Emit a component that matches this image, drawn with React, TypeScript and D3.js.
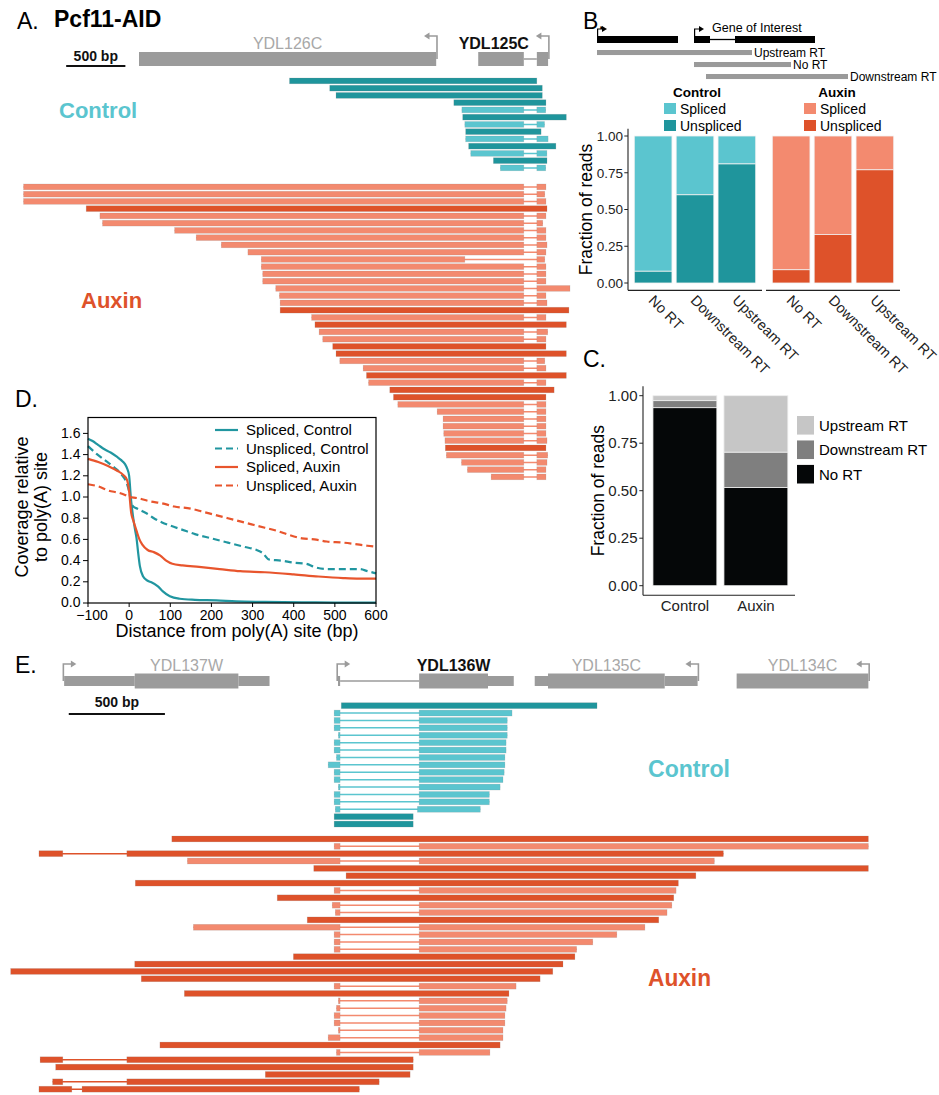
import React from 'react';
import * as d3 from 'd3';

type Block = [number, number];
type Read = { spliced: boolean; blocks: Block[] };
type Part = [number, number, 'cds' | 'utr' | 'intron'];
type Gene = { name: string; strand: '+' | '-'; focus: boolean; parts: Part[] };

const S = (...blocks: Block[]): Read => ({ spliced: true, blocks });
const U = (...blocks: Block[]): Read => ({ spliced: false, blocks });

// ---- panel A: YDL126C / YDL125C locus, positions in bp from the left edge of the window
const genesA: Gene[] = [
  { name: 'YDL126C', strand: '-', focus: false, parts: [[1005, 3515, 'cds']] },
  { name: 'YDL125C', strand: '-', focus: true, parts: [[3870, 4255, 'cds'], [4255, 4365, 'intron'], [4365, 4460, 'cds']] },
];

const controlReadsA: Read[] = [
  U([2276, 4365]), U([2616, 4411]), U([2669, 4411]), U([3664, 4442]),
  S([3732, 4255], [4365, 4440]), U([3739, 4614]), S([3757, 4255], [4365, 4430]),
  U([3764, 4401]), S([3764, 4255], [4365, 4460]), U([3789, 4526]),
  S([3807, 4255], [4365, 4450]), U([3998, 4451]), S([4057, 4255], [4365, 4440]),
];

const auxinReadsA: Read[] = [
  S([30, 4255], [4365, 4442]), S([30, 4255], [4365, 4432]), S([30, 4255], [4365, 4442]),
  U([559, 4451]), S([675, 4255], [4365, 4442]), S([697, 4255], [4365, 4415]),
  S([1306, 4255], [4365, 4442]), S([1488, 4255], [4365, 4442]), S([1700, 4255], [4365, 4451]),
  S([1925, 4255], [4365, 4442]), S([2038, 3757], [4365, 4432]), S([2038, 4255], [4365, 4442]),
  S([2050, 4255], [4365, 4442]), S([2050, 4255], [4365, 4442]), S([2160, 4255], [4365, 4645]),
  S([2191, 4255], [4365, 4442]), S([2197, 4255], [4365, 4451]), U([2197, 4636]),
  S([2463, 4255], [4365, 4442]), U([2491, 4614]), S([2526, 4255], [4365, 4457]),
  S([2557, 4255], [4365, 4442]), U([2641, 4442]), U([2669, 4614]),
  S([2701, 4255], [4365, 4432]), S([2898, 4255], [4365, 4442]), U([2926, 4614]),
  S([2944, 4255], [4365, 4442]), U([3123, 4511]), U([3154, 4442]),
  S([3191, 4255], [4365, 4442]), S([3523, 4255], [4365, 4442]), S([3573, 4255], [4365, 4442]),
  S([3573, 4255], [4365, 4442]), S([3579, 4255], [4365, 4442]), S([3589, 4255], [4365, 4451]),
  U([3592, 4442]), S([3601, 4255], [4365, 4457]), S([3729, 4255], [4365, 4451]),
  S([3779, 4255], [4365, 4442]), S([3979, 4255], [4365, 4442]),
];

// ---- panel B
const rtClasses = ['No RT', 'Downstream RT', 'Upstream RT'];
const controlUnspliced = [0.08, 0.6, 0.81];
const controlSpliced = [0.92, 0.4, 0.19];
const auxinUnspliced = [0.09, 0.33, 0.77];
const auxinSpliced = [0.91, 0.67, 0.23];
// schematic, arbitrary units
const schematicGenes: Gene[] = [
  { name: '', strand: '+', focus: false, parts: [[0, 81, 'cds']] },
  { name: 'Gene of Interest', strand: '+', focus: true, parts: [[97, 113, 'cds'], [113, 138, 'intron'], [138, 218, 'cds']] },
];
const schematicReads = [
  { label: 'Upstream RT', span: [0, 155] },
  { label: 'No RT', span: [97, 194] },
  { label: 'Downstream RT', span: [109, 251] },
];

// ---- panel C
const conditions = ['Control', 'Auxin'];
const noRTShare = [0.937, 0.517];
const downstreamShare = [0.037, 0.186];
const upstreamShare = [0.026, 0.297];
const rtLegend = ['Upstream RT', 'Downstream RT', 'No RT'];

// ---- panel D: coverage relative to poly(A) site
const splicedControl: [number, number][] = [
  [-100, 1.55], [-90, 1.53], [-75, 1.49], [-60, 1.45], [-45, 1.42], [-30, 1.38], [-20, 1.35],
  [-10, 1.31], [-5, 1.27], [0, 1.2], [4, 1.0], [9, 0.83], [14, 0.7], [18, 0.61], [22, 0.47],
  [26, 0.35], [34, 0.25], [45, 0.21], [54, 0.195], [70, 0.157], [82, 0.11], [99, 0.063],
  [123, 0.04], [160, 0.03], [212, 0.025], [260, 0.015], [330, 0.01], [420, 0.006], [500, 0.004], [600, 0.003],
];
const unsplicedControl: [number, number][] = [
  [-100, 1.48], [-80, 1.41], [-60, 1.35], [-40, 1.29], [-20, 1.22], [-5, 1.12], [0, 1.05],
  [5, 0.95], [10, 0.91], [20, 0.89], [30, 0.87], [45, 0.84], [60, 0.8], [80, 0.76], [100, 0.73],
  [130, 0.69], [160, 0.65], [200, 0.61], [240, 0.57], [280, 0.53], [310, 0.5], [325, 0.47],
  [340, 0.41], [370, 0.4], [400, 0.38], [430, 0.37], [450, 0.34], [480, 0.32], [520, 0.32],
  [560, 0.32], [580, 0.3], [600, 0.28],
];
const splicedAuxin: [number, number][] = [
  [-100, 1.36], [-75, 1.33], [-50, 1.29], [-30, 1.25], [-15, 1.21], [-5, 1.16], [0, 1.05],
  [5, 0.85], [10, 0.78], [18, 0.68], [25, 0.6], [32, 0.55], [45, 0.5], [60, 0.48], [75, 0.45],
  [90, 0.4], [105, 0.37], [130, 0.355], [170, 0.34], [220, 0.32], [270, 0.3], [330, 0.29],
  [400, 0.27], [460, 0.25], [520, 0.235], [560, 0.23], [600, 0.23],
];
const unsplicedAuxin: [number, number][] = [
  [-100, 1.12], [-75, 1.1], [-50, 1.06], [-25, 1.04], [-10, 1.02], [0, 1.0], [20, 0.99],
  [50, 0.96], [80, 0.94], [110, 0.91], [150, 0.89], [180, 0.86], [210, 0.83], [240, 0.8],
  [270, 0.77], [300, 0.74], [330, 0.71], [360, 0.68], [390, 0.64], [420, 0.61], [450, 0.6],
  [480, 0.58], [520, 0.57], [560, 0.55], [600, 0.53],
];

// ---- panel E: YDL137W .. YDL134C, bp from left edge of the window
const genesE: Gene[] = [
  { name: 'YDL137W', strand: '+', focus: false, parts: [[292, 659, 'utr'], [659, 1198, 'cds'], [1198, 1360, 'utr']] },
  { name: 'YDL136W', strand: '+', focus: true, parts: [[1716, 1727, 'utr'], [1727, 2138, 'intron'], [2138, 2496, 'cds'], [2496, 2630, 'utr']] },
  { name: 'YDL135C', strand: '-', focus: false, parts: [[2739, 2808, 'utr'], [2808, 3415, 'cds'], [3415, 3586, 'utr']] },
  { name: 'YDL134C', strand: '-', focus: false, parts: [[3789, 4474, 'cds']] },
];

const controlReadsE: Read[] = [
  U([1733, 3063]),
  S([1696, 1727], [2138, 2621]), S([1696, 1727], [2138, 2596]), S([1696, 1727], [2138, 2596]),
  S([1718, 1727], [2138, 2596]), S([1696, 1727], [2138, 2590]), S([1696, 1727], [2138, 2590]),
  S([1708, 1727], [2138, 2584]), S([1665, 1727], [2138, 2584]), S([1696, 1727], [2138, 2580]),
  S([1696, 1727], [2138, 2574]), S([1718, 1727], [2138, 2559]), S([1696, 1727], [2138, 2503]),
  S([1696, 1727], [2138, 2503]), S([1702, 1727], [2129, 2456]),
  U([1696, 2107]), U([1696, 2107]),
];

const auxinReadsE: Read[] = [
  U([852, 4474]), S([1696, 1727], [2138, 4474]), U([161, 285], [618, 3720]),
  S([933, 1727], [2138, 3673]), U([1590, 4474]), U([1758, 3577]), U([662, 3486]),
  S([1696, 1727], [2138, 3474]), U([1400, 3462]), S([1686, 1727], [2138, 3452]),
  S([1702, 1727], [2138, 3427]), U([1556, 3384]), S([964, 1727], [2138, 3312]),
  S([1696, 1727], [2138, 3166]), S([1696, 1727], [2138, 3041]), S([1696, 1727], [2138, 2957]),
  U([1484, 2948]), U([659, 2886]), U([14, 2833]), U([693, 2767]),
  S([1696, 1727], [2138, 2642]), U([917, 2605]), S([1718, 1727], [2138, 2596]),
  S([1708, 1727], [2138, 2590]), S([1696, 1727], [2138, 2584]), S([1696, 1727], [2138, 2584]),
  S([1718, 1727], [2138, 2574]), S([1665, 1727], [2138, 2574]), U([790, 2559]),
  S([1708, 1727], [2138, 2506]), U([167, 285], [618, 2107]), U([248, 2107]),
  U([1338, 2091]), U([232, 285], [618, 1930]), U([161, 332], [385, 1827]),
];

const FONT = "'Liberation Sans', Arial, Helvetica, sans-serif";
const CTRL_LIGHT = '#5bc5cf';
const CTRL_DARK = '#1f959c';
const AUX_LIGHT = '#f38a6f';
const AUX_DARK = '#de522a';
const GENE_GRAY = '#9b9b9b';
const AXIS = '#222';

function GeneModel({ g, x, cy, arrowY, cdsH, utrH, labelY, fontSize = 16, color = GENE_GRAY }: any) {
  const lo = d3.min(g.parts, (p: Part) => p[0]) as number;
  const hi = d3.max(g.parts, (p: Part) => p[1]) as number;
  const dir = g.strand === '+' ? 1 : -1;
  const tss = x(dir > 0 ? lo : hi) - dir * 0.8;
  const cds = g.parts.filter((p: Part) => p[2] === 'cds');
  let lx = x(((d3.min(cds, (p: Part) => p[0]) as number) + (d3.max(cds, (p: Part) => p[1]) as number)) / 2);
  let anchor = 'middle';
  if (dir < 0 && lx + g.name.length * 5 > tss - 10) {
    lx = tss - 20;
    anchor = 'end';
  }
  const tip = tss + dir * 13;
  return (
    <g>
      {g.parts.map(([a, b, kind]: Part, i: number) =>
        kind === 'intron' ? (
          <line key={i} x1={x(a)} x2={x(b)} y1={cy} y2={cy} stroke={color} strokeWidth={1.5} />
        ) : (
          <rect key={i} x={x(a)} width={x(b) - x(a)} y={cy - (kind === 'cds' ? cdsH : utrH) / 2}
            height={kind === 'cds' ? cdsH : utrH} fill={color} />
        )
      )}
      <path d={`M${tss},${cy}V${arrowY}H${tip - dir * 4}`} fill="none" stroke={color} strokeWidth={1.6} />
      <path d={`M${tip},${arrowY}L${tip - dir * 5.5},${arrowY - 3.5}L${tip - dir * 5.5},${arrowY + 3.5}Z`} fill={color} />
      {g.name && (
        <text x={lx} y={labelY} textAnchor={anchor} fontSize={fontSize}
          fontWeight={g.focus ? 'bold' : 'normal'} fill={g.focus ? '#111' : '#a8a8a8'}>{g.name}</text>
      )}
    </g>
  );
}

function ReadStack({ reads, x, top, step, light, dark }: any) {
  const rows = d3.scaleBand<number>()
    .domain(d3.range(reads.length))
    .range([top, top + step * (reads.length - 0.2)])
    .paddingInner(0.2);
  const h = rows.bandwidth();
  return (
    <g>
      {reads.map((r: Read, i: number) => {
        const y = rows(i) as number;
        const c = r.spliced ? light : dark;
        const lo = r.blocks[0][0];
        const hi = r.blocks[r.blocks.length - 1][1];
        return (
          <g key={i}>
            {r.blocks.length > 1 && (
              <line x1={x(lo)} x2={x(hi)} y1={y + h / 2} y2={y + h / 2} stroke={c} strokeWidth={1.5} />
            )}
            {r.blocks.map(([a, b], j) => (
              <rect key={j} x={x(a)} y={y} width={x(b) - x(a)} height={h} fill={c}
                stroke="#8c8c8c" strokeOpacity={0.3} strokeWidth={0.6} />
            ))}
          </g>
        );
      })}
    </g>
  );
}

function ScaleBar({ x, start, y, labelY }: any) {
  return (
    <g>
      <line x1={x(start)} x2={x(start + 500)} y1={y} y2={y} stroke="#111" strokeWidth={2} />
      <text x={(x(start) + x(start + 500)) / 2} y={labelY} textAnchor="middle" fontSize={14} fontWeight="bold" fill="#111">500 bp</text>
    </g>
  );
}

function PanelA() {
  const x = d3.scaleLinear().domain([0, 4700]).range([20, 576.5]);
  return (
    <g>
      <text x={17} y={29} fontSize={23}>A.</text>
      <text x={54} y={27} fontSize={23} fontWeight="bold">Pcf11-AID</text>
      <ScaleBar x={x} start={390} y={66} labelY={61} />
      {genesA.map(g => (
        <GeneModel key={g.name} g={g} x={x} cy={59} arrowY={36} cdsH={14} utrH={10} labelY={49} />
      ))}
      <ReadStack reads={controlReadsA} x={x} top={78} step={7.25} light={CTRL_LIGHT} dark={CTRL_DARK} />
      <ReadStack reads={auxinReadsA} x={x} top={184} step={7.25} light={AUX_LIGHT} dark={AUX_DARK} />
      <text x={59} y={118} fontSize={22} fontWeight="bold" fill={CTRL_LIGHT}>Control</text>
      <text x={81} y={308} fontSize={22} fontWeight="bold" fill={AUX_DARK}>Auxin</text>
    </g>
  );
}

function PanelB() {
  const xs = d3.scaleLinear().domain([0, 250]).range([597, 847]);
  const readRows = d3.scaleBand<string>()
    .domain(schematicReads.map(d => d.label))
    .range([50, 50 + 12 * (3 - 0.58)])
    .paddingInner(0.58);
  const y = d3.scaleLinear().domain([0, 1]).range([283, 136]);
  const facets = [
    { name: 'Control', x0: 628, light: CTRL_LIGHT, dark: CTRL_DARK, spliced: controlSpliced, unspliced: controlUnspliced, lx: 664 },
    { name: 'Auxin', x0: 766, light: AUX_LIGHT, dark: AUX_DARK, spliced: auxinSpliced, unspliced: auxinUnspliced, lx: 804 },
  ];
  const yTicks = [0, 0.25, 0.5, 0.75, 1];
  const fmt = d3.format('.2f');
  return (
    <g>
      <text x={583} y={29} fontSize={23}>B.</text>
      {schematicGenes.map((g, i) => (
        <g key={i}>
          {g.parts.map(([a, b, kind], j) => kind === 'intron'
            ? <line key={j} x1={xs(a)} x2={xs(b)} y1={39.5} y2={39.5} stroke="#000" strokeWidth={1.3} />
            : <rect key={j} x={xs(a)} width={xs(b) - xs(a)} y={36} height={7} fill="#000" />)}
          <path d={`M${xs(g.parts[0][0]) + 0.6},${39}V29H${xs(g.parts[0][0]) + 6}`} fill="none" stroke="#000" strokeWidth={1.2} />
          <path d={`M${xs(g.parts[0][0]) + 10},29L${xs(g.parts[0][0]) + 5},26L${xs(g.parts[0][0]) + 5},32Z`} fill="#000" />
          {g.name && <text x={xs(g.parts[0][0]) + 18} y={31.5} fontSize={12.5}>{g.name}</text>}
        </g>
      ))}
      {schematicReads.map(r => (
        <g key={r.label}>
          <rect x={xs(r.span[0])} width={xs(r.span[1]) - xs(r.span[0])} y={readRows(r.label)} height={readRows.bandwidth()} fill="#9a9a9a" />
          <text x={xs(r.span[1]) + 2} y={(readRows(r.label) as number) + readRows.bandwidth() / 2 + 4.3} fontSize={12}>{r.label}</text>
        </g>
      ))}
      {facets.map(f => {
        const band = d3.scaleBand<string>().domain(rtClasses).range([f.x0, f.x0 + 134]).paddingInner(0.1).paddingOuter(0.15);
        return (
          <g key={f.name}>
            <text x={f.lx + 33} y={97} textAnchor="middle" fontSize={13.5} fontWeight="bold">{f.name}</text>
            <rect x={f.lx} y={103} width={12} height={11} fill={f.light} />
            <rect x={f.lx} y={120} width={12} height={11} fill={f.dark} />
            <text x={f.lx + 16} y={113.5} fontSize={14}>Spliced</text>
            <text x={f.lx + 16} y={130.5} fontSize={14}>Unspliced</text>
            {rtClasses.map((c, i) => (
              <g key={c}>
                <rect x={band(c)} width={band.bandwidth()} y={y(1)} height={y(f.unspliced[i]) - y(1)} fill={f.light} stroke="#f2f2f2" strokeWidth={0.8} />
                <rect x={band(c)} width={band.bandwidth()} y={y(f.unspliced[i])} height={y(0) - y(f.unspliced[i])} fill={f.dark} stroke="#f2f2f2" strokeWidth={0.8} />
                <text transform={`translate(${(band(c) as number) + band.bandwidth() / 2 + 2},294) rotate(45)`}
                  fontSize={14.5} dominantBaseline="hanging" fill={AXIS}>{c}</text>
              </g>
            ))}
            <line x1={f.x0} x2={f.x0 + 134} y1={y(-0.05)} y2={y(-0.05)} stroke={AXIS} strokeWidth={1.1} />
          </g>
        );
      })}
      <line x1={628} x2={628} y1={y(-0.05)} y2={y(1.05)} stroke={AXIS} strokeWidth={1.1} />
      {yTicks.map(t => (
        <g key={t}>
          <line x1={624.3} x2={628} y1={y(t)} y2={y(t)} stroke={AXIS} />
          <text x={623} y={y(t) + 4.8} textAnchor="end" fontSize={13.5} fill={AXIS}>{fmt(t)}</text>
        </g>
      ))}
      <text transform={`translate(592,${(y(-0.05) + y(1.05)) / 2}) rotate(-90)`} textAnchor="middle" fontSize={17.5}>Fraction of reads</text>
    </g>
  );
}

function PanelC() {
  const y = d3.scaleLinear().domain([0, 1]).range([585.7, 395.7]);
  const band = d3.scaleBand<string>().domain(conditions).range([642.3, 798.5]).paddingInner(0.1).paddingOuter(0.15);
  const rows = conditions.map((c, i) => ({ cond: c, 'No RT': noRTShare[i], 'Downstream RT': downstreamShare[i], 'Upstream RT': upstreamShare[i] }));
  const series = d3.stack<any>().keys(['No RT', 'Downstream RT', 'Upstream RT'])(rows);
  const color: Record<string, string> = { 'No RT': '#050708', 'Downstream RT': '#7f7f7f', 'Upstream RT': '#c6c6c6' };
  const legendRows = d3.scaleBand<string>().domain(rtLegend).range([416, 416 + 22.5 * 3]).paddingInner(0.24);
  const fmt = d3.format('.2f');
  return (
    <g>
      <text x={583} y={367} fontSize={23}>C.</text>
      {series.map(s => s.map((d, i) => (
        <rect key={s.key + i} x={band(conditions[i])} width={band.bandwidth()} y={y(d[1])} height={y(d[0]) - y(d[1])}
          fill={color[s.key]} stroke="#eeeeee" strokeWidth={0.8} />
      )))}
      <line x1={643} x2={643} y1={y(-0.05)} y2={y(1.05)} stroke={AXIS} strokeWidth={1.1} />
      <line x1={643} x2={795} y1={y(-0.05)} y2={y(-0.05)} stroke={AXIS} strokeWidth={1.1} />
      {[0, 0.25, 0.5, 0.75, 1].map(t => (
        <g key={t}>
          <line x1={639.3} x2={643} y1={y(t)} y2={y(t)} stroke={AXIS} />
          <text x={637.5} y={y(t) + 5} textAnchor="end" fontSize={15} fill={AXIS}>{fmt(t)}</text>
        </g>
      ))}
      {conditions.map(c => (
        <text key={c} x={(band(c) as number) + band.bandwidth() / 2} y={611} textAnchor="middle" fontSize={15} fill={AXIS}>{c}</text>
      ))}
      <text transform={`translate(604,${(y(-0.05) + y(1.05)) / 2}) rotate(-90)`} textAnchor="middle" fontSize={17.5}>Fraction of reads</text>
      {rtLegend.map(k => (
        <g key={k}>
          <rect x={797} y={legendRows(k)} width={17} height={legendRows.bandwidth()} fill={color[k]} />
          <text x={819} y={(legendRows(k) as number) + legendRows.bandwidth() / 2 + 5.5} fontSize={15}>{k}</text>
        </g>
      ))}
    </g>
  );
}

function PanelD() {
  const x = d3.scaleLinear().domain([-100, 600]).range([88, 376]);
  const y = d3.scaleLinear().domain([0, 1.75]).range([603, 417.5]);
  const line = d3.line<[number, number]>().x(d => x(d[0])).y(d => y(d[1])).curve(d3.curveMonotoneX);
  const TEAL = '#2196a0';
  const ORANGE = '#e8552d';
  const curves = [
    { label: 'Spliced, Control', data: splicedControl, color: TEAL, dash: undefined },
    { label: 'Unspliced, Control', data: unsplicedControl, color: TEAL, dash: '7,4' },
    { label: 'Spliced, Auxin', data: splicedAuxin, color: ORANGE, dash: undefined },
    { label: 'Unspliced, Auxin', data: unsplicedAuxin, color: ORANGE, dash: '7,4' },
  ];
  const legendY = d3.scalePoint<string>().domain(curves.map(c => c.label)).range([430, 485.5]);
  const yTicks = d3.range(0, 1.61, 0.2);
  const xTicks = d3.range(-100, 601, 100);
  return (
    <g>
      <text x={15} y={407} fontSize={23}>D.</text>
      {curves.map(c => (
        <path key={c.label} d={line(c.data) as string} fill="none" stroke={c.color} strokeWidth={2.2} strokeDasharray={c.dash} />
      ))}
      <rect x={88} y={417.5} width={288} height={185.5} fill="none" stroke="#000" strokeWidth={1.2} />
      {yTicks.map(t => (
        <g key={t}>
          <line x1={83} x2={88} y1={y(t)} y2={y(t)} stroke="#000" />
          <text x={80.5} y={y(t) + 4.3} textAnchor="end" fontSize={14}>{d3.format('.1f')(t)}</text>
        </g>
      ))}
      {xTicks.map(t => (
        <g key={t}>
          <line x1={x(t)} x2={x(t)} y1={603} y2={607} stroke="#000" />
          <text x={x(t) + (t < 0 ? 4 : 0)} y={619.5} textAnchor="middle" fontSize={14}>{d3.format('d')(t)}</text>
        </g>
      ))}
      <text x={237} y={636.5} textAnchor="middle" fontSize={18}>Distance from poly(A) site (bp)</text>
      <text transform="translate(28,507) rotate(-90)" textAnchor="middle" fontSize={18}>Coverage relative</text>
      <text transform="translate(47,507) rotate(-90)" textAnchor="middle" fontSize={18}>to poly(A) site</text>
      {curves.map(c => (
        <g key={c.label}>
          <line x1={215} x2={238} y1={legendY(c.label)} y2={legendY(c.label)} stroke={c.color} strokeWidth={2.2} strokeDasharray={c.dash} />
          <text x={246} y={(legendY(c.label) as number) + 5} fontSize={15}>{c.label}</text>
        </g>
      ))}
    </g>
  );
}

function PanelE() {
  const x = d3.scaleLinear().domain([0, 4600]).range([8, 892.6]);
  return (
    <g>
      <text x={15} y={673} fontSize={23}>E.</text>
      {genesE.map(g => (
        <GeneModel key={g.name} g={g} x={x} cy={681} arrowY={664} cdsH={15} utrH={10} labelY={671} />
      ))}
      <ScaleBar x={x} start={316} y={714} labelY={707} />
      <ReadStack reads={controlReadsE} x={x} top={702.7} step={7.4} light={CTRL_LIGHT} dark={CTRL_DARK} />
      <ReadStack reads={auxinReadsE} x={x} top={836} step={7.36} light={AUX_LIGHT} dark={AUX_DARK} />
      <text x={648} y={777} fontSize={24} fontWeight="bold" fill={CTRL_LIGHT} textLength={82} lengthAdjust="spacingAndGlyphs">Control</text>
      <text x={648} y={986} fontSize={24} fontWeight="bold" fill={AUX_DARK} textLength={63} lengthAdjust="spacingAndGlyphs">Auxin</text>
    </g>
  );
}

export default function App() {
  return (
    <svg width={939} height={1095} fontFamily={FONT}
      style={{ position: 'absolute', left: 0, top: 0, background: '#fff', display: 'block' }}>
      <PanelA />
      <PanelB />
      <PanelC />
      <PanelD />
      <PanelE />
    </svg>
  );
}
